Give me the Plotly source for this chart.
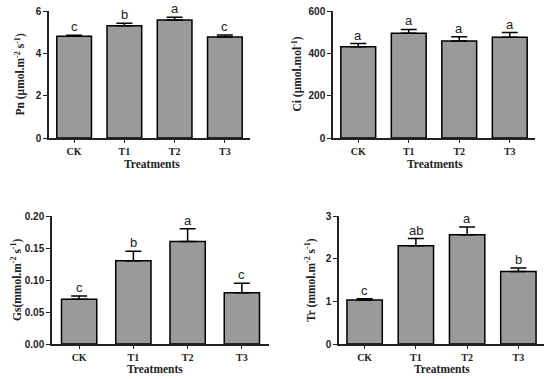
import plotly.graph_objects as go

categories = ["CK", "T1", "T2", "T3"]

pn_values = [4.81, 5.30, 5.57, 4.77]
pn_errors = [0.05, 0.12, 0.13, 0.10]
pn_letters = ["c", "b", "a", "c"]

ci_values = [431, 495, 458, 476]
ci_errors = [15, 18, 20, 22]
ci_letters = ["a", "a", "a", "a"]

gs_values = [0.070, 0.130, 0.160, 0.080]
gs_errors = [0.005, 0.015, 0.020, 0.015]
gs_letters = ["c", "b", "a", "c"]

tr_values = [1.03, 2.30, 2.56, 1.70]
tr_errors = [0.03, 0.17, 0.18, 0.08]
tr_letters = ["c", "ab", "a", "b"]

pn_ticks = [0, 2, 4, 6]
ci_ticks = [0, 200, 400, 600]
gs_ticks = [0.0, 0.05, 0.10, 0.15, 0.20]
gs_ticklabels = ["0.00", "0.05", "0.10", "0.15", "0.20"]
tr_ticks = [0, 1, 2, 3]

W, H = 550, 379
BAR = "#999b98"
SERIF = "Liberation Serif, Times New Roman, serif"
SANS = "Liberation Sans, Arial, sans-serif"

panels = [
    dict(vals=pn_values, errs=pn_errors, lets=pn_letters, ticks=pn_ticks, tlab=[str(t) for t in pn_ticks],
         rng=[0, 6], px=(49, 250), py=(11, 138), bw=0.69,
         title="Pn (μmol.m<sup>-2</sup> s<sup>-1</sup>)", tx=20, tcx=152, tcy=164),
    dict(vals=ci_values, errs=ci_errors, lets=ci_letters, ticks=ci_ticks, tlab=[str(t) for t in ci_ticks],
         rng=[0, 600], px=(333, 535), py=(11, 138), bw=0.69,
         title="Ci (μmol.mol<sup>-1</sup>)", tx=297, tcx=435, tcy=164),
    dict(vals=gs_values, errs=gs_errors, lets=gs_letters, ticks=gs_ticks, tlab=gs_ticklabels,
         rng=[0, 0.2], px=(52, 269), py=(216, 344), bw=0.65,
         title="Gs(mmol.m<sup>-2</sup> s<sup>-1</sup>)", tx=16, tcx=155, tcy=369),
    dict(vals=tr_values, errs=tr_errors, lets=tr_letters, ticks=tr_ticks, tlab=[str(t) for t in tr_ticks],
         rng=[0, 3], px=(339, 544), py=(216, 344), bw=0.69,
         title="Tr (mmol.m<sup>-2</sup> s<sup>-1</sup>)", tx=310, tcx=442, tcy=369),
]

fig = go.Figure()
annotations = []
layout = {}
for i, p in enumerate(panels):
    n = "" if i == 0 else str(i + 1)
    xa, ya = "x" + n, "y" + n
    fig.add_trace(go.Bar(
        x=categories, y=p["vals"], xaxis=xa, yaxis=ya, width=p["bw"],
        marker=dict(color=BAR, line=dict(color="black", width=1.5)),
        error_y=dict(type="data", symmetric=False, array=p["errs"], arrayminus=[0] * 4,
                     color="black", thickness=1.5, width=8),
        showlegend=False, hoverinfo="skip"))
    layout["xaxis" + n] = dict(
        domain=[p["px"][0] / W, p["px"][1] / W], anchor=ya, range=[-0.5, 3.5],
        showline=True, linecolor="#222", linewidth=1.5, ticks="outside", ticklen=3,
        tickwidth=1.2, tickcolor="#222", showgrid=False, zeroline=False, automargin=False,
        tickfont=dict(family=SERIF, size=10, color="#222", weight="bold"))
    layout["yaxis" + n] = dict(
        domain=[1 - p["py"][1] / H, 1 - p["py"][0] / H], anchor=xa, range=p["rng"],
        tickvals=p["ticks"], ticktext=p["tlab"], automargin=False,
        showline=True, linecolor="#222", linewidth=1.5, ticks="outside", ticklen=4,
        tickwidth=1.2, tickcolor="#222", showgrid=False, zeroline=False,
        tickfont=dict(family=SANS, size=10, color="#222", weight="bold"))
    for c, v, e, l in zip(categories, p["vals"], p["errs"], p["lets"]):
        annotations.append(dict(x=c, y=v + e, xref=xa, yref=ya, text=l, showarrow=False,
                                xanchor="center", yanchor="bottom", yshift=-1,
                                font=dict(family=SANS, size=13, color="#222")))
    annotations.append(dict(x=p["tx"] / W, y=1 - (p["py"][0] + p["py"][1]) / 2 / H,
                            xref="paper", yref="paper", text="<b>" + p["title"] + "</b>",
                            textangle=-90, showarrow=False, xanchor="center", yanchor="middle",
                            font=dict(family=SERIF, size=11.5, color="#222")))
    annotations.append(dict(x=p["tcx"] / W, y=1 - p["tcy"] / H, xref="paper", yref="paper",
                            text="<b>Treatments</b>", showarrow=False,
                            xanchor="center", yanchor="middle",
                            font=dict(family=SERIF, size=11.5, color="#222")))

fig.update_layout(**layout)
fig.update_layout(width=W, height=H, margin=dict(l=0, r=0, t=0, b=0, autoexpand=False),
                  paper_bgcolor="white", plot_bgcolor="white",
                  annotations=annotations, bargap=0.3)
fig.write_html("out.html", config={"displayModeBar": False},
               post_script="document.body.style.margin='0';document.body.style.overflow='hidden';")
